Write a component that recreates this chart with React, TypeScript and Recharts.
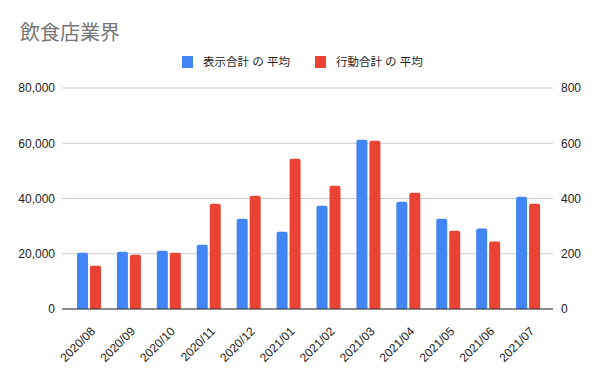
import { BarChart, Bar, XAxis, YAxis, CartesianGrid } from 'recharts';

const months = [
  '2020/08', '2020/09', '2020/10', '2020/11', '2020/12', '2021/01',
  '2021/02', '2021/03', '2021/04', '2021/05', '2021/06', '2021/07',
];
const displayAvg = [20400, 20700, 21100, 23300, 32700, 28000, 37400, 61300, 38800, 32700, 29100, 40600];
const actionAvg = [157, 196, 204, 381, 410, 544, 446, 609, 421, 283, 244, 381];
const leftTicks = [0, 20000, 40000, 60000, 80000];
const rightTicks = [0, 200, 400, 600, 800];

const BLUE = '#4285F4';
const RED = '#EA4335';
const FONT = 'Arial, "Liberation Sans", "Noto Sans CJK JP", sans-serif';

const data = months.map((m, i) => ({ month: m, display: displayAvg[i], action: actionAvg[i] }));

function MonthTick(props: any) {
  const { x, y, payload } = props;
  return (
    <text
      transform={`translate(${x + 7},${y + 15}) rotate(-45)`}
      textAnchor="end"
      fontSize={12}
      fill="#222"
      fontFamily={FONT}
    >
      {payload.value}
    </text>
  );
}

function LegendItem({ color, label, gap }: { color: string; label: string; gap: number }) {
  return (
    <div style={{ display: 'flex', alignItems: 'center', marginRight: gap }}>
      <div style={{ width: 11, height: 12, background: color, marginRight: 10 }} />
      <span style={{ fontSize: 11.5, lineHeight: '14px', color: '#222', fontFamily: FONT }}>{label}</span>
    </div>
  );
}

export default function App() {
  return (
    <div style={{ position: 'absolute', left: 0, top: 0, width: 600, height: 371, background: '#fff' }}>
      <div
        style={{
          position: 'absolute',
          left: 20,
          top: 21,
          fontSize: 20,
          lineHeight: '22px',
          color: '#757575',
          fontFamily: '"Noto Sans CJK JP", sans-serif',
        }}
      >
        飲食店業界
      </div>
      <div style={{ position: 'absolute', left: 182, top: 55, display: 'flex', height: 14 }}>
        <LegendItem color={BLUE} label="表示合計 の 平均" gap={25} />
        <LegendItem color={RED} label="行動合計 の 平均" gap={0} />
      </div>
      <BarChart
        width={600}
        height={371}
        data={data}
        margin={{ top: 88, right: 0, bottom: 7, left: 0 }}
        barSize={11}
        barGap={2}
      >
        <CartesianGrid vertical={false} stroke="#cccccc" yAxisId="left" />
        <XAxis
          dataKey="month"
          tick={<MonthTick />}
          tickLine={false}
          axisLine={{ stroke: '#333333' }}
          height={55}
          interval={0}
          padding={{ left: 7, right: 5 }}
        />
        <YAxis
          yAxisId="left"
          orientation="left"
          domain={[0, 80000]}
          ticks={leftTicks}
          width={62}
          axisLine={false}
          tickLine={false}
          tickMargin={1}
          tick={{ fontSize: 12, fill: '#222', fontFamily: FONT }}
          tickFormatter={(v: number) => v.toLocaleString('en-US')}
        />
        <YAxis
          yAxisId="right"
          orientation="right"
          domain={[0, 800]}
          ticks={rightTicks}
          width={47}
          axisLine={false}
          tickLine={false}
          tick={{ fontSize: 12, fill: '#222', fontFamily: FONT }}
        />
        <Bar dataKey="display" yAxisId="left" fill={BLUE} radius={[2, 2, 0, 0]} isAnimationActive={false} />
        <Bar dataKey="action" yAxisId="right" fill={RED} radius={[2, 2, 0, 0]} isAnimationActive={false} />
      </BarChart>
    </div>
  );
}
